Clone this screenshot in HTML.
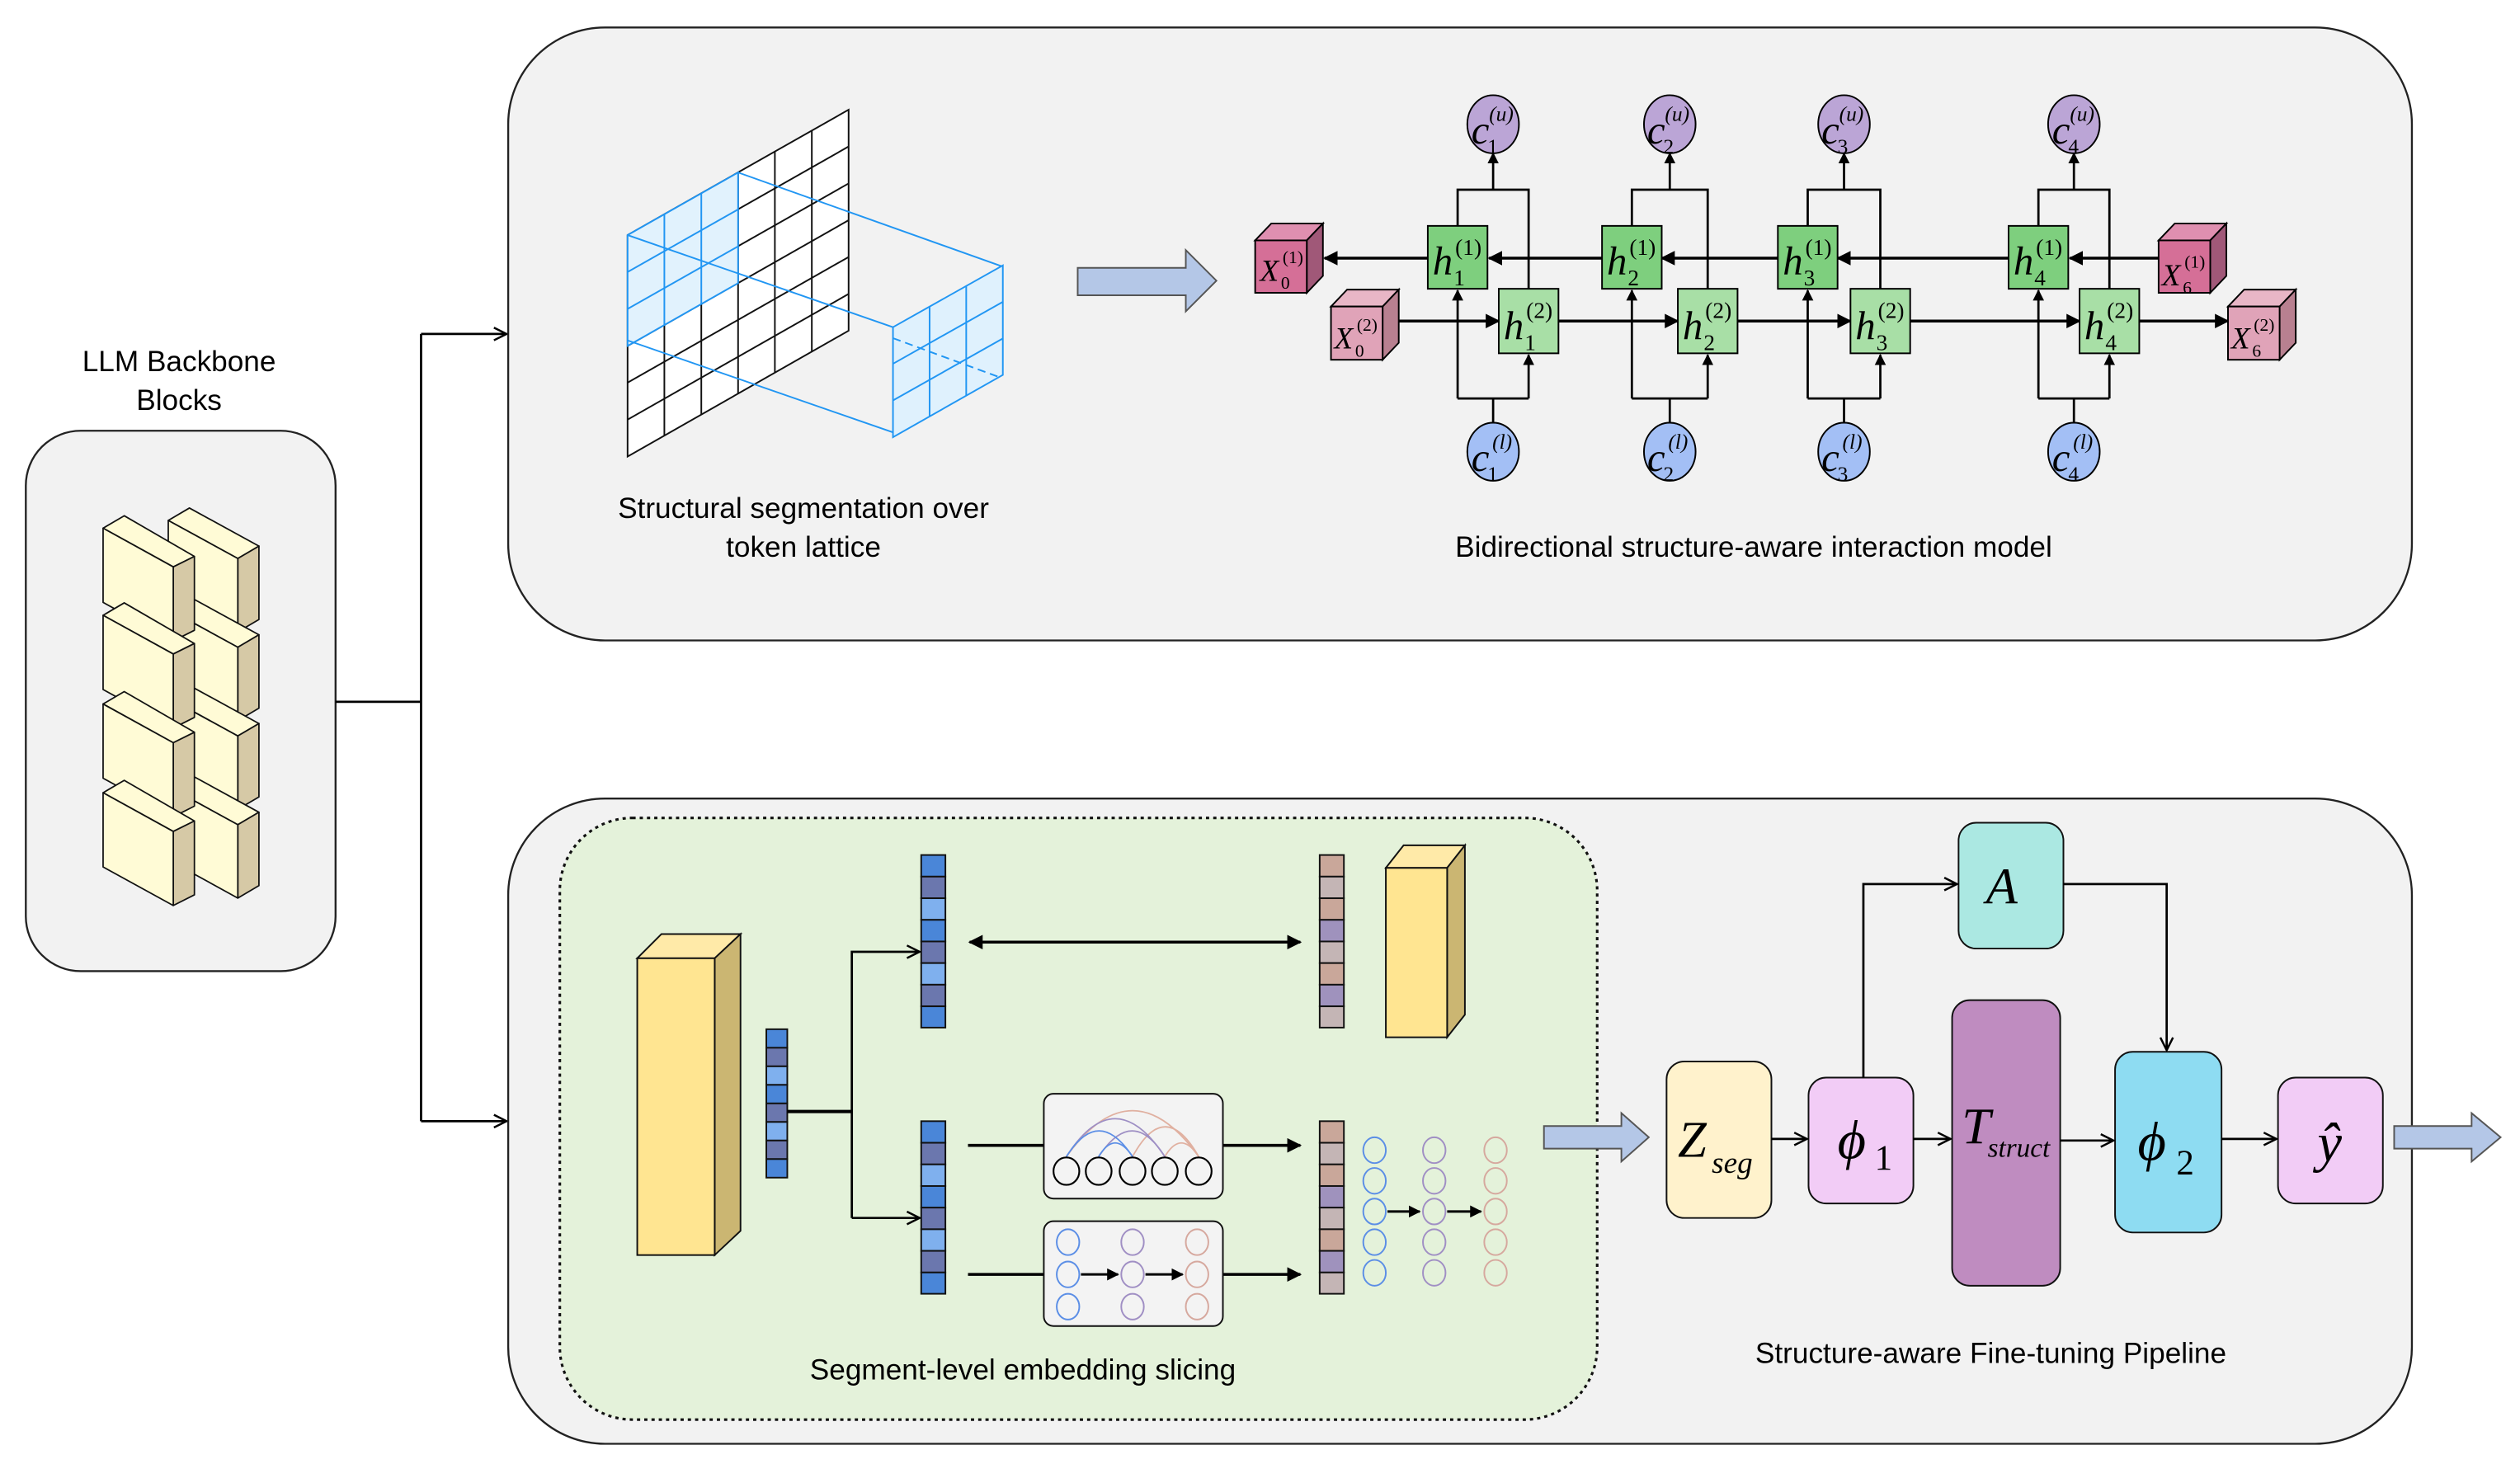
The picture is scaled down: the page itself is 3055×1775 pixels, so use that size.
<!DOCTYPE html>
<html><head><meta charset="utf-8"><style>html,body{margin:0;padding:0;background:#fff}svg{display:block}</style></head>
<body>
<svg width="3055" height="1775" viewBox="0 0 1562 907.5" xmlns="http://www.w3.org/2000/svg">
<defs>
<marker id="ah" viewBox="0 0 10 10" refX="9" refY="5" markerWidth="6" markerHeight="6" orient="auto-start-reverse"><path d="M0,0 L10,5 L0,10 z" fill="#000"/></marker>
<marker id="as" viewBox="0 0 10 10" refX="9" refY="5" markerWidth="5" markerHeight="5" orient="auto-start-reverse"><path d="M0,0 L10,5 L0,10 z" fill="#000"/></marker>
<marker id="oh" viewBox="0 0 10 10" refX="9" refY="5" markerWidth="7" markerHeight="7" orient="auto"><path d="M1,1 L9,5 L1,9" fill="none" stroke="#000" stroke-width="1.3"/></marker>
</defs>
<rect width="1562" height="907.5" fill="#fff"/>

<!-- LLM -->
<text x="111" y="230" font-family="Liberation Sans, sans-serif" font-size="18" text-anchor="middle">LLM Backbone</text>
<text x="111" y="254" font-family="Liberation Sans, sans-serif" font-size="18" text-anchor="middle">Blocks</text>
<rect x="16" y="267" width="192" height="335" rx="34" fill="#f2f2f2" stroke="#222" stroke-width="1.2"/>
<g stroke="#111" stroke-width="0.9" stroke-linejoin="round">
<g id="rc">
<polygon points="104.3,322.6 117.4,314.9 160.5,338.5 147.4,346.2" fill="#fffbd6"/>
<polygon points="147.4,346.2 160.5,338.5 160.5,384 147.4,391.7" fill="#d6c9a6"/>
<polygon points="104.3,322.6 147.4,346.2 147.4,391.7 104.3,368" fill="#fffbd6"/>
</g>
<use href="#rc" y="55"/><use href="#rc" y="110"/><use href="#rc" y="165"/>
<g id="lc">
<polygon points="63.9,327.4 77,319.7 120.5,344.9 107.4,351.4" fill="#fffbd6"/>
<polygon points="107.4,351.4 120.5,344.9 120.5,390.7 107.4,397.3" fill="#d6c9a6"/>
<polygon points="63.9,327.4 107.4,351.4 107.4,397.3 63.9,373.4" fill="#fffbd6"/>
</g>
<use href="#lc" y="54"/><use href="#lc" y="109"/><use href="#lc" y="164"/>
</g>

<g stroke="#000" stroke-width="1.4" fill="none">
<line x1="208" y1="435" x2="261" y2="435"/>
<line x1="261" y1="207" x2="261" y2="695"/>
<line x1="261" y1="207" x2="314" y2="207" marker-end="url(#oh)"/>
<line x1="261" y1="695" x2="314" y2="695" marker-end="url(#oh)"/>
</g>

<rect x="315" y="17" width="1180" height="380" rx="60" fill="#f2f2f2" stroke="#222" stroke-width="1.2"/>
<rect x="315" y="495" width="1180" height="400" rx="60" fill="#f2f2f2" stroke="#222" stroke-width="1.2"/>

<!-- lattice -->
<polygon points="389,145.7 526,68 526,205 389,283" fill="#fff" stroke="#111" stroke-width="1"/>
<g stroke="#111" stroke-width="1">
<line x1="389" y1="168.6" x2="526" y2="90.8"/><line x1="389" y1="191.5" x2="526" y2="113.7"/>
<line x1="389" y1="214.4" x2="526" y2="136.5"/><line x1="389" y1="237.2" x2="526" y2="159.3"/>
<line x1="389" y1="260.1" x2="526" y2="182.2"/>
<line x1="411.8" y1="132.8" x2="411.8" y2="270.1"/><line x1="434.7" y1="119.8" x2="434.7" y2="257.2"/>
<line x1="457.5" y1="106.9" x2="457.5" y2="244.2"/><line x1="480.3" y1="93.9" x2="480.3" y2="231.2"/>
<line x1="503.2" y1="81" x2="503.2" y2="218.3"/>
</g>
<polygon points="389,145.7 457.5,106.9 457.5,175.5 389,214.4" fill="#dff1fd" fill-opacity="0.95" stroke="#2196f3" stroke-width="1"/>
<g stroke="#2196f3" stroke-width="1" fill="none">
<line x1="389" y1="168.6" x2="457.5" y2="129.8"/><line x1="389" y1="191.5" x2="457.5" y2="152.7"/>
<line x1="411.8" y1="132.8" x2="411.8" y2="201.5"/><line x1="434.7" y1="119.8" x2="434.7" y2="188.5"/>
<line x1="389" y1="145.7" x2="553.5" y2="202.8"/>
<line x1="457.5" y1="106.9" x2="621.6" y2="165.3"/>
<line x1="389" y1="211" x2="553.5" y2="268"/>
</g>
<polygon points="553.5,202.8 621.6,164.5 621.6,232.4 553.5,271" fill="#dff1fd" stroke="#2196f3" stroke-width="1"/>
<g stroke="#2196f3" stroke-width="1" fill="none">
<line x1="553.5" y1="225.5" x2="621.6" y2="187.1"/><line x1="553.5" y1="248.2" x2="621.6" y2="209.8"/>
<line x1="576.2" y1="190" x2="576.2" y2="258.2"/><line x1="598.9" y1="177.3" x2="598.9" y2="245.3"/>
<line x1="553.5" y1="209.6" x2="620" y2="234" stroke-dasharray="5,3"/>
</g>
<text x="498" y="321" font-family="Liberation Sans, sans-serif" font-size="18" text-anchor="middle">Structural segmentation over</text>
<text x="498" y="345" font-family="Liberation Sans, sans-serif" font-size="18" text-anchor="middle">token lattice</text>

<polygon points="668,166 735,166 735,155 754,174 735,193 735,183 668,183" fill="#b4c7e7" stroke="#555" stroke-width="1"/>

<!-- bidirectional model -->
<g stroke="#000" stroke-width="1.4" fill="none">
<polyline points="903.5,140 903.5,117.6 947.5,117.6 947.5,179"/>
<polyline points="1011.5,140 1011.5,117.6 1058.5,117.6 1058.5,179"/>
<polyline points="1120.5,140 1120.5,117.6 1165.5,117.6 1165.5,179"/>
<polyline points="1263.5,140 1263.5,117.6 1307.5,117.6 1307.5,179"/>
<line x1="925.5" y1="117.6" x2="925.5" y2="95" marker-end="url(#as)"/>
<line x1="1035" y1="117.6" x2="1035" y2="95" marker-end="url(#as)"/>
<line x1="1143" y1="117.6" x2="1143" y2="95" marker-end="url(#as)"/>
<line x1="1285.5" y1="117.6" x2="1285.5" y2="95" marker-end="url(#as)"/>
<polyline points="903.5,247 947.5,247"/><polyline points="1011.5,247 1058.5,247"/>
<polyline points="1120.5,247 1165.5,247"/><polyline points="1263.5,247 1307.5,247"/>
<line x1="903.5" y1="247" x2="903.5" y2="180" marker-end="url(#as)"/>
<line x1="947.5" y1="247" x2="947.5" y2="220" marker-end="url(#as)"/>
<line x1="1011.5" y1="247" x2="1011.5" y2="180" marker-end="url(#as)"/>
<line x1="1058.5" y1="247" x2="1058.5" y2="220" marker-end="url(#as)"/>
<line x1="1120.5" y1="247" x2="1120.5" y2="180" marker-end="url(#as)"/>
<line x1="1165.5" y1="247" x2="1165.5" y2="220" marker-end="url(#as)"/>
<line x1="1263.5" y1="247" x2="1263.5" y2="180" marker-end="url(#as)"/>
<line x1="1307.5" y1="247" x2="1307.5" y2="220" marker-end="url(#as)"/>
<line x1="925.5" y1="262" x2="925.5" y2="247"/><line x1="1035" y1="262" x2="1035" y2="247"/>
<line x1="1143" y1="262" x2="1143" y2="247"/><line x1="1285.5" y1="262" x2="1285.5" y2="247"/>
<line x1="1339" y1="160" x2="1283" y2="160" marker-end="url(#as)" stroke-width="1.8"/>
<line x1="1245" y1="160" x2="1139" y2="160" marker-end="url(#as)" stroke-width="1.8"/>
<line x1="1102" y1="160" x2="1030" y2="160" marker-end="url(#as)" stroke-width="1.8"/>
<line x1="993" y1="160" x2="923" y2="160" marker-end="url(#as)" stroke-width="1.8"/>
<line x1="885" y1="160" x2="821" y2="160" marker-end="url(#as)" stroke-width="1.8"/>
<line x1="867" y1="199" x2="929" y2="199" marker-end="url(#as)" stroke-width="1.8"/>
<line x1="966" y1="199" x2="1040" y2="199" marker-end="url(#as)" stroke-width="1.8"/>
<line x1="1077" y1="199" x2="1147" y2="199" marker-end="url(#as)" stroke-width="1.8"/>
<line x1="1184" y1="199" x2="1289" y2="199" marker-end="url(#as)" stroke-width="1.8"/>
<line x1="1326" y1="199" x2="1381" y2="199" marker-end="url(#as)" stroke-width="1.8"/>
</g>
<g stroke="#000" stroke-width="1">
<rect x="885" y="140" width="37" height="39" fill="#7ecf7e"/>
<rect x="993" y="140" width="37" height="39" fill="#7ecf7e"/>
<rect x="1102" y="140" width="37" height="39" fill="#7ecf7e"/>
<rect x="1245" y="140" width="37" height="39" fill="#7ecf7e"/>
<rect x="929" y="179" width="37" height="40" fill="#a8dfa6"/>
<rect x="1040" y="179" width="37" height="40" fill="#a8dfa6"/>
<rect x="1147" y="179" width="37" height="40" fill="#a8dfa6"/>
<rect x="1289" y="179" width="37" height="40" fill="#a8dfa6"/>
<ellipse cx="925.5" cy="77" rx="16" ry="18" fill="#bba5d6"/>
<ellipse cx="1035" cy="77" rx="16" ry="18" fill="#bba5d6"/>
<ellipse cx="1143" cy="77" rx="16" ry="18" fill="#bba5d6"/>
<ellipse cx="1285.5" cy="77" rx="16" ry="18" fill="#bba5d6"/>
<ellipse cx="925.5" cy="280" rx="16" ry="18" fill="#a3bff5"/>
<ellipse cx="1035" cy="280" rx="16" ry="18" fill="#a3bff5"/>
<ellipse cx="1143" cy="280" rx="16" ry="18" fill="#a3bff5"/>
<ellipse cx="1285.5" cy="280" rx="16" ry="18" fill="#a3bff5"/>
<polygon points="778,149 788,138.5 820,138.5 810,149" fill="#df8fb0"/><polygon points="810,149 820,138.5 820,171 810,181.5" fill="#a05878"/><rect x="778" y="149" width="32" height="32.5" fill="#d56f97"/>
<polygon points="1338,149 1348,138.5 1380,138.5 1370,149" fill="#df8fb0"/><polygon points="1370,149 1380,138.5 1380,171 1370,181.5" fill="#a05878"/><rect x="1338" y="149" width="32" height="32.5" fill="#d56f97"/>
<polygon points="825,190 835,179.5 867,179.5 857,190" fill="#e8b6c6"/><polygon points="857,190 867,179.5 867,212.5 857,223" fill="#b88090"/><rect x="825" y="190" width="32" height="33" fill="#e0a3b8"/>
<polygon points="1381,190 1391,179.5 1423,179.5 1413,190" fill="#e8b6c6"/><polygon points="1413,190 1423,179.5 1423,212.5 1413,223" fill="#b88090"/><rect x="1381" y="190" width="32" height="33" fill="#e0a3b8"/>
</g>
<g font-family="Liberation Serif, serif" font-style="italic" fill="#000">
<g font-size="25">
<text x="888" y="170">h</text><text x="996" y="170">h</text><text x="1105" y="170">h</text><text x="1248" y="170">h</text>
<text x="932" y="210">h</text><text x="1043" y="210">h</text><text x="1150" y="210">h</text><text x="1292" y="210">h</text>
</g>
<g font-size="14" font-style="normal">
<text x="901" y="177">1</text><text x="1009" y="177">2</text><text x="1118" y="177">3</text><text x="1261" y="177">4</text>
<text x="945" y="217">1</text><text x="1056" y="217">2</text><text x="1163" y="217">3</text><text x="1305" y="217">4</text>
<text x="902" y="158">(1)</text><text x="1010" y="158">(1)</text><text x="1119" y="158">(1)</text><text x="1262" y="158">(1)</text>
<text x="946" y="197">(2)</text><text x="1057" y="197">(2)</text><text x="1164" y="197">(2)</text><text x="1306" y="197">(2)</text>
</g>
<g font-size="19">
<text x="781" y="174">X</text><text x="1340" y="177">X</text><text x="827" y="216">X</text><text x="1383" y="216">X</text>
</g>
<g font-size="11" font-style="normal">
<text x="794" y="179">0</text><text x="795" y="163">(1)</text>
<text x="1353" y="182">6</text><text x="1354" y="166">(1)</text>
<text x="840" y="221">0</text><text x="841" y="205">(2)</text>
<text x="1396" y="221">6</text><text x="1397" y="205">(2)</text>
</g>
<g font-size="25">
<text x="912" y="89">c</text><text x="1021" y="89">c</text><text x="1129" y="89">c</text><text x="1272" y="89">c</text>
<text x="912" y="292">c</text><text x="1021" y="292">c</text><text x="1129" y="292">c</text><text x="1272" y="292">c</text>
</g>
<g font-size="13">
<text x="922" y="95" font-style="normal">1</text><text x="1031" y="95" font-style="normal">2</text><text x="1139" y="95" font-style="normal">3</text><text x="1282" y="95" font-style="normal">4</text>
<text x="923" y="75">(u)</text><text x="1032" y="75">(u)</text><text x="1140" y="75">(u)</text><text x="1283" y="75">(u)</text>
<text x="922" y="298" font-style="normal">1</text><text x="1031" y="298" font-style="normal">2</text><text x="1139" y="298" font-style="normal">3</text><text x="1282" y="298" font-style="normal">4</text>
<text x="925" y="278">(l)</text><text x="1034" y="278">(l)</text><text x="1142" y="278">(l)</text><text x="1285" y="278">(l)</text>
</g>
</g>
<text x="1087" y="345" font-family="Liberation Sans, sans-serif" font-size="18" text-anchor="middle">Bidirectional structure-aware interaction model</text>

<!-- bottom green region -->
<rect x="347" y="507" width="643" height="373" rx="45" fill="#e4f2da" stroke="#111" stroke-width="1.6" stroke-dasharray="2,2.5"/>
<text x="634" y="855" font-family="Liberation Sans, sans-serif" font-size="18" text-anchor="middle">Segment-level embedding slicing</text>

<g stroke="#111" stroke-width="1">
<polygon points="395,594 410,579 459,579 443,594" fill="#ffeaa8"/>
<polygon points="443,594 459,579 459,763 443,778" fill="#cbb672"/>
<rect x="395" y="594" width="48" height="184" fill="#ffe591"/>
<polygon points="859,538 870,524 908,524 897,538" fill="#ffeaa8"/>
<polygon points="897,538 908,524 908,629 897,643" fill="#cbb672"/>
<rect x="859" y="538" width="38" height="105" fill="#ffe591"/>
</g>
<g stroke="#111" stroke-width="1">
<rect x="475" y="638" width="13" height="11.5" fill="#4a86d8"/><rect x="475" y="649.5" width="13" height="11.5" fill="#6b77ae"/><rect x="475" y="661" width="13" height="11.5" fill="#7fb0ee"/><rect x="475" y="672.5" width="13" height="11.5" fill="#4a86d8"/><rect x="475" y="684" width="13" height="11.5" fill="#6b77ae"/><rect x="475" y="695.5" width="13" height="11.5" fill="#7fb0ee"/><rect x="475" y="707" width="13" height="11.5" fill="#6b77ae"/><rect x="475" y="718.5" width="13" height="11.5" fill="#4a86d8"/>
<g id="bv">
<rect x="571" y="530" width="15" height="13.4" fill="#4a86d8"/><rect x="571" y="543.4" width="15" height="13.4" fill="#6b77ae"/><rect x="571" y="556.8" width="15" height="13.4" fill="#7fb0ee"/><rect x="571" y="570.2" width="15" height="13.4" fill="#4a86d8"/><rect x="571" y="583.6" width="15" height="13.4" fill="#6b77ae"/><rect x="571" y="597" width="15" height="13.4" fill="#7fb0ee"/><rect x="571" y="610.4" width="15" height="13.4" fill="#6b77ae"/><rect x="571" y="623.8" width="15" height="13.2" fill="#4a86d8"/>
</g>
<use href="#bv" y="165"/>
<g id="pv">
<rect x="818" y="530" width="15" height="13.4" fill="#c9a79a"/><rect x="818" y="543.4" width="15" height="13.4" fill="#c4b5b5"/><rect x="818" y="556.8" width="15" height="13.4" fill="#c9a79a"/><rect x="818" y="570.2" width="15" height="13.4" fill="#9f92bd"/><rect x="818" y="583.6" width="15" height="13.4" fill="#c4b5b5"/><rect x="818" y="597" width="15" height="13.4" fill="#c9a79a"/><rect x="818" y="610.4" width="15" height="13.4" fill="#9f92bd"/><rect x="818" y="623.8" width="15" height="13.2" fill="#c4b5b5"/>
</g>
<use href="#pv" y="165"/>
</g>
<g stroke="#000" stroke-width="1.4" fill="none">
<line x1="488" y1="689" x2="528" y2="689" stroke-width="2"/>
<polyline points="528,755 528,590 570,590" marker-end="url(#oh)"/>
<line x1="528" y1="755" x2="570" y2="755" marker-end="url(#oh)"/>
<line x1="601" y1="584" x2="806" y2="584" marker-start="url(#as)" marker-end="url(#as)" stroke-width="1.8"/>
<line x1="600" y1="710" x2="647" y2="710" stroke-width="1.8"/>
<line x1="758" y1="710" x2="806" y2="710" marker-end="url(#as)" stroke-width="1.8"/>
<line x1="600" y1="790" x2="647" y2="790" stroke-width="1.8"/>
<line x1="758" y1="790" x2="806" y2="790" marker-end="url(#as)" stroke-width="1.8"/>
</g>
<rect x="647" y="678" width="111" height="65" rx="6" fill="#f3f3f3" stroke="#111" stroke-width="1"/>
<rect x="647" y="757" width="111" height="65" rx="6" fill="#f3f3f3" stroke="#111" stroke-width="1"/>
<g fill="none" stroke-width="0.9">
<path d="M743,717 Q702,660 661,717" stroke="#e0b0a0"/>
<path d="M743,717 Q722,680 702,717" stroke="#e0b0a0"/>
<path d="M743,717 Q732,700 722,717" stroke="#e0b0a0"/>
<path d="M722,717 Q691,670 661,717" stroke="#9e8fc4"/>
<path d="M722,717 Q702,685 681,717" stroke="#9e8fc4"/>
<path d="M702,717 Q681,685 661,717" stroke="#5b8ee6"/>
<path d="M702,717 Q691,700 681,717" stroke="#5b8ee6"/>
</g>
<g fill="none" stroke="#000" stroke-width="1.1">
<ellipse cx="661" cy="726" rx="8" ry="8.5"/><ellipse cx="681" cy="726" rx="8" ry="8.5"/><ellipse cx="702" cy="726" rx="8" ry="8.5"/><ellipse cx="722" cy="726" rx="8" ry="8.5"/><ellipse cx="743" cy="726" rx="8" ry="8.5"/>
</g>
<g fill="none" stroke-width="1">
<g stroke="#5b8ee6"><ellipse cx="662" cy="770" rx="7" ry="8"/><ellipse cx="662" cy="790" rx="7" ry="8"/><ellipse cx="662" cy="810" rx="7" ry="8"/></g>
<g stroke="#a08fc4"><ellipse cx="702" cy="770" rx="7" ry="8"/><ellipse cx="702" cy="790" rx="7" ry="8"/><ellipse cx="702" cy="810" rx="7" ry="8"/></g>
<g stroke="#d6a89e"><ellipse cx="742" cy="770" rx="7" ry="8"/><ellipse cx="742" cy="790" rx="7" ry="8"/><ellipse cx="742" cy="810" rx="7" ry="8"/></g>
<g stroke="#5b8ee6"><ellipse cx="852" cy="713" rx="7" ry="8"/><ellipse cx="852" cy="732" rx="7" ry="8"/><ellipse cx="852" cy="751" rx="7" ry="8"/><ellipse cx="852" cy="770" rx="7" ry="8"/><ellipse cx="852" cy="789" rx="7" ry="8"/></g>
<g stroke="#a08fc4"><ellipse cx="889" cy="713" rx="7" ry="8"/><ellipse cx="889" cy="732" rx="7" ry="8"/><ellipse cx="889" cy="751" rx="7" ry="8"/><ellipse cx="889" cy="770" rx="7" ry="8"/><ellipse cx="889" cy="789" rx="7" ry="8"/></g>
<g stroke="#d6a89e"><ellipse cx="927" cy="713" rx="7" ry="8"/><ellipse cx="927" cy="732" rx="7" ry="8"/><ellipse cx="927" cy="751" rx="7" ry="8"/><ellipse cx="927" cy="770" rx="7" ry="8"/><ellipse cx="927" cy="789" rx="7" ry="8"/></g>
</g>
<g stroke="#000" stroke-width="1.5">
<line x1="670" y1="790" x2="693" y2="790" marker-end="url(#as)"/><line x1="710" y1="790" x2="733" y2="790" marker-end="url(#as)"/>
<line x1="860" y1="751" x2="880" y2="751" marker-end="url(#as)"/><line x1="897" y1="751" x2="918" y2="751" marker-end="url(#as)"/>
</g>

<polygon points="957,698 1005,698 1005,690 1022,705 1005,720 1005,712 957,712" fill="#b4c7e7" stroke="#555" stroke-width="1"/>
<polygon points="1484,698 1532,698 1532,690 1550,705 1532,720 1532,712 1484,712" fill="#b4c7e7" stroke="#555" stroke-width="1"/>

<!-- pipeline -->
<g stroke="#111" stroke-width="1">
<rect x="1033" y="658" width="65" height="97" rx="11" fill="#fff2cc"/>
<rect x="1121" y="668" width="65" height="78" rx="11" fill="#f2ccf6"/>
<rect x="1210" y="620" width="67" height="177" rx="11" fill="#bf8cc0"/>
<rect x="1214" y="510" width="65" height="78" rx="11" fill="#abe8e2"/>
<rect x="1311" y="652" width="66" height="112" rx="11" fill="#8edcf2"/>
<rect x="1412" y="668" width="65" height="78" rx="11" fill="#f2ccf6"/>
</g>
<g stroke="#000" stroke-width="1.4" fill="none">
<line x1="1098" y1="706" x2="1120" y2="706" marker-end="url(#oh)"/>
<line x1="1186" y1="706" x2="1209" y2="706" marker-end="url(#oh)"/>
<line x1="1277" y1="707" x2="1310" y2="707" marker-end="url(#oh)"/>
<line x1="1377" y1="706" x2="1411" y2="706" marker-end="url(#oh)"/>
<polyline points="1155,668 1155,548 1213,548" marker-end="url(#oh)"/>
<polyline points="1279,548 1343,548 1343,651" marker-end="url(#oh)"/>
</g>
<g font-family="Liberation Serif, serif" font-style="italic" fill="#000">
<text x="1040" y="717" font-size="32">Z</text><text x="1061" y="727" font-size="19">seg</text>
<text x="1139" y="718" font-size="34">ϕ</text><text x="1162" y="725" font-size="22" font-style="normal">1</text>
<text x="1216" y="709" font-size="32">T</text><text x="1232" y="717" font-size="17">struct</text>
<text x="1231" y="560" font-size="32">A</text>
<text x="1325" y="719" font-size="34">ϕ</text><text x="1349" y="728" font-size="22" font-style="normal">2</text>
<text x="1444" y="720" font-size="34" text-anchor="middle">ŷ</text>
</g>
<text x="1234" y="845" font-family="Liberation Sans, sans-serif" font-size="18" text-anchor="middle">Structure-aware Fine-tuning Pipeline</text>
</svg>
</body></html>
